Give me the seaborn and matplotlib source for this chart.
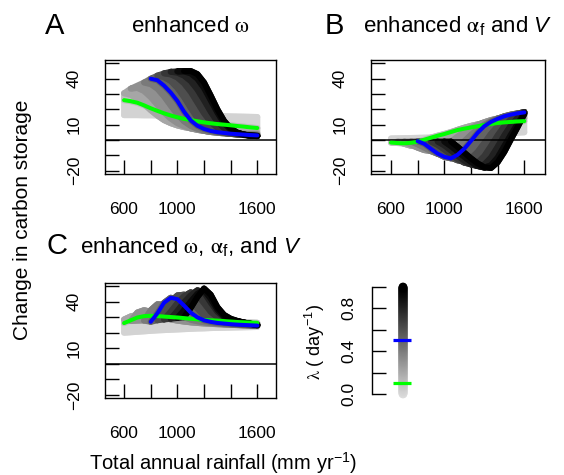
import numpy as np
import pandas as pd
import matplotlib
matplotlib.use("Agg")
import matplotlib.pyplot as plt
import seaborn as sns

nan = np.nan

# ---------------- data ----------------
rainfall = [600, 650, 700, 750, 800, 850, 900, 950, 1000, 1050, 1100,
            1150, 1200, 1250, 1300, 1350, 1400, 1450, 1500, 1550, 1600]
lambda_levels = [0.0, 0.1, 0.2, 0.3, 0.4, 0.5, 0.6, 0.7, 0.8, 0.9, 1.0]
green_idx = 1   # lambda = 0.1
blue_idx = 5    # lambda = 0.5

# Panel A: enhanced omega
a_l00 = [16.2, 16.2, 16.2, 16.1, 16.1, 16.0, 16.0, 15.9, 15.9, 15.8, 15.8,
         15.7, 15.7, 15.6, 15.5, 15.5, 15.4, 15.3, 15.2, 15.1, 15.0]
a_l01 = [26.0, 25.3, 24.3, 22.6, 20.7, 19.0, 17.4, 16.0, 14.8, 13.8, 13.0,
         12.2, 11.5, 10.9, 10.4, 10.0, 9.6, 9.1, 8.7, 8.2, 7.8]
a_l02 = [30.5, 29.5, 27.0, 23.5, 19.5, 16.0, 13.0, 11.0, 9.5, 8.4, 7.6,
         7.0, 6.5, 6.1, 5.8, 5.5, 5.3, 5.1, 4.9, 4.7, 4.5]
a_l03 = [nan, 33.5, 34.0, 32.0, 28.0, 23.0, 18.0, 14.0, 11.0, 9.0, 7.6,
         6.6, 5.9, 5.4, 5.0, 4.7, 4.4, 4.2, 4.0, 3.8, 3.7]
a_l04 = [nan, nan, nan, 37.5, 36.5, 33.5, 28.5, 22.5, 16.8, 12.2, 9.2,
         7.3, 6.0, 5.2, 4.7, 4.3, 4.0, 3.8, 3.6, 3.5, 3.4]
a_l05 = [nan, nan, nan, nan, 40.0, 39.0, 35.5, 31.0, 25.5, 18.5, 12.8,
         9.3, 7.2, 5.9, 5.1, 4.6, 4.1, 3.8, 3.5, 3.2, 3.0]
a_l06 = [nan, nan, nan, nan, nan, 42.0, 41.0, 38.5, 34.0, 28.0, 21.0,
         14.5, 10.0, 7.2, 5.6, 4.6, 4.0, 3.5, 3.2, 2.9, 2.8]
a_l07 = [nan, nan, nan, nan, nan, nan, 43.5, 42.8, 40.8, 37.0, 31.5,
         24.5, 17.5, 11.8, 8.0, 5.8, 4.5, 3.8, 3.3, 3.0, 2.7]
a_l08 = [nan, nan, nan, nan, nan, nan, nan, 44.5, 44.0, 42.0, 38.5,
         33.0, 26.0, 18.5, 12.0, 7.8, 5.4, 4.1, 3.4, 2.9, 2.6]
a_l09 = [nan, nan, nan, nan, nan, nan, nan, nan, 44.8, 44.8, 43.5,
         40.0, 34.0, 26.0, 18.0, 11.0, 6.8, 4.6, 3.5, 2.9, 2.6]
a_l10 = [nan, nan, nan, nan, nan, nan, nan, nan, nan, 45.0, 45.0,
         43.0, 37.5, 29.0, 20.0, 12.5, 7.5, 4.8, 3.5, 2.8, 2.5]

# Panel B: enhanced alpha_f and V
b_l00 = [1.0, 1.1, 1.2, 1.3, 1.4, 1.5, 1.6, 1.8, 2.0, 2.2, 2.4,
         2.6, 2.8, 3.0, 3.3, 3.6, 3.9, 4.2, 4.5, 4.8, 5.0]
b_l01 = [-1.7, -2.0, -2.2, -1.8, -1.2, 0.2, 1.5, 2.8, 3.9, 5.2, 6.5,
         7.4, 8.2, 9.0, 9.8, 10.5, 11.1, 11.5, 11.8, 12.1, 12.3]
b_l02 = [nan, -1.0, -2.5, -3.8, -4.3, -3.6, -1.8, 0.5, 2.8, 4.8, 6.6,
         8.0, 9.2, 10.2, 11.1, 11.9, 12.6, 13.2, 13.6, 14.0, 14.3]
b_l03 = [nan, nan, -1.0, -3.0, -5.0, -6.6, -7.2, -6.3, -4.0, -1.0, 2.2,
         5.2, 7.8, 9.9, 11.6, 13.0, 14.0, 14.8, 15.4, 15.9, 16.2]
b_l04 = [nan, nan, nan, -1.0, -2.8, -5.0, -7.3, -9.0, -9.5, -8.0, -4.8,
         -0.8, 3.3, 7.0, 10.0, 12.3, 14.0, 15.3, 16.2, 16.8, 17.2]
b_l05 = [nan, nan, nan, nan, -0.8, -2.5, -5.8, -8.9, -11.0, -12.0, -9.6,
         -5.7, -0.6, 4.7, 9.0, 11.8, 13.8, 15.5, 16.6, 17.4, 18.0]
b_l06 = [nan, nan, nan, nan, nan, -1.0, -3.0, -5.8, -8.8, -11.5, -13.3,
         -13.8, -12.0, -7.8, -2.0, 4.0, 9.0, 12.8, 15.5, 17.2, 18.3]
b_l07 = [nan, nan, nan, nan, nan, nan, -1.0, -3.2, -6.2, -9.5, -12.5,
         -14.8, -15.8, -14.8, -10.5, -4.0, 3.0, 9.0, 13.5, 16.5, 18.3]
b_l08 = [nan, nan, nan, nan, nan, nan, nan, -1.0, -3.5, -6.8, -10.3,
         -13.5, -16.0, -17.0, -16.0, -11.5, -4.5, 3.0, 9.5, 14.5, 18.2]
b_l09 = [nan, nan, nan, nan, nan, nan, nan, nan, -1.0, -4.0, -7.5,
         -11.0, -14.3, -17.0, -18.0, -16.5, -11.5, -4.0, 3.5, 10.5, 17.5]
b_l10 = [nan, nan, nan, nan, nan, nan, nan, nan, nan, -1.0, -4.5,
         -8.3, -12.0, -15.3, -17.8, -18.3, -14.5, -7.8, 0.5, 8.5, 17.0]

# Panel C: enhanced omega, alpha_f and V
c_l00 = [20.0, 20.3, 20.6, 20.9, 21.2, 21.5, 21.7, 21.9, 22.1, 22.3, 22.5,
         22.7, 22.8, 23.0, 23.1, 23.2, 23.3, 23.4, 23.5, 23.6, 23.7]
c_l01 = [26.2, 28.0, 29.8, 30.7, 30.9, 30.7, 30.4, 30.1, 29.8, 29.4, 29.0,
         28.6, 28.2, 28.0, 27.8, 27.5, 27.2, 26.9, 26.7, 26.5, 26.4]
c_l02 = [28.5, 30.5, 31.5, 31.3, 30.5, 29.8, 29.2, 28.7, 28.2, 27.8, 27.4,
         27.0, 26.7, 26.4, 26.1, 25.9, 25.7, 25.5, 25.3, 25.1, 25.0]
c_l03 = [nan, 27.5, 33.0, 34.5, 33.5, 31.5, 29.8, 28.6, 27.8, 27.2, 26.7,
         26.3, 26.0, 25.7, 25.5, 25.3, 25.1, 24.9, 24.8, 24.7, 24.6]
c_l04 = [nan, nan, nan, 27.8, 34.5, 38.3, 38.0, 35.5, 32.5, 30.0, 28.4,
         27.4, 26.7, 26.2, 25.8, 25.5, 25.2, 25.0, 24.8, 24.7, 24.6]
c_l05 = [nan, nan, nan, nan, 27.0, 32.5, 39.3, 42.5, 41.6, 37.5, 33.0,
         29.9, 28.0, 27.0, 26.3, 25.9, 25.5, 25.2, 25.0, 24.8, 24.6]
c_l06 = [nan, nan, nan, nan, nan, 28.0, 34.0, 40.0, 44.0, 44.5, 41.0,
         35.5, 31.0, 28.8, 27.5, 26.7, 26.1, 25.6, 25.2, 24.9, 24.7]
c_l07 = [nan, nan, nan, nan, nan, nan, 28.5, 33.5, 39.0, 43.5, 46.0,
         44.5, 39.0, 33.5, 30.0, 28.2, 27.1, 26.4, 25.8, 25.3, 24.9]
c_l08 = [nan, nan, nan, nan, nan, nan, nan, 29.0, 34.0, 39.5, 44.0,
         47.3, 46.0, 39.5, 33.5, 30.0, 28.3, 27.2, 26.3, 25.7, 25.1]
c_l09 = [nan, nan, nan, nan, nan, nan, nan, nan, 29.5, 34.5, 40.0,
         45.0, 47.5, 42.0, 35.0, 30.5, 28.5, 27.4, 26.5, 25.8, 25.1]
c_l10 = [nan, nan, nan, nan, nan, nan, nan, nan, nan, 30.0, 36.0,
         43.0, 48.5, 44.5, 36.5, 31.5, 29.0, 27.6, 26.6, 25.7, 24.8]

panel_a = [a_l00, a_l01, a_l02, a_l03, a_l04, a_l05, a_l06, a_l07, a_l08, a_l09, a_l10]
panel_b = [b_l00, b_l01, b_l02, b_l03, b_l04, b_l05, b_l06, b_l07, b_l08, b_l09, b_l10]
panel_c = [c_l00, c_l01, c_l02, c_l03, c_l04, c_l05, c_l06, c_l07, c_l08, c_l09, c_l10]

x_ticks = [600, 800, 1000, 1200, 1400, 1600]
x_labels = ["600", "", "1000", "", "", "1600"]
y_ticks = [-20, -10, 0, 10, 20, 30, 40, 50]
y_labels = ["\u221220", "", "", "10", "", "", "40", ""]
cb_ticks = [0.0, 0.2, 0.4, 0.6, 0.8, 1.0]
cb_labels = ["0.0", "", "0.4", "", "0.8", ""]

# ---------------- style ----------------
sns.set_style("white")
plt.rcParams["font.family"] = ["Liberation Sans", "DejaVu Sans"]
plt.rcParams["text.color"] = "black"
plt.rcParams["axes.labelcolor"] = "black"
plt.rcParams["xtick.color"] = "black"
plt.rcParams["ytick.color"] = "black"
plt.rcParams["axes.edgecolor"] = "black"
plt.rcParams["mathtext.fontset"] = "custom"
plt.rcParams["mathtext.rm"] = "STIXGeneral"
plt.rcParams["mathtext.it"] = "Liberation Sans:italic"
plt.rcParams["mathtext.sf"] = "Liberation Sans"
plt.rcParams["mathtext.bf"] = "Liberation Sans:bold"

TICK_FS = 12.5
BAND_LW = 4.3
LINE_LW = 2.9
BLUE = "#0000FF"
GREEN = "#00FF00"


def gray(lam):
    g = 0.87 * (1.0 - lam)
    return (g, g, g)


fig = plt.figure(figsize=(5.64, 4.75), dpi=100)


def draw_panel(rect, curves, xlim):
    ax = fig.add_axes(rect)
    n = len(lambda_levels)
    for i, lam in enumerate(lambda_levels):
        cur = pd.DataFrame({"rain": rainfall, "val": curves[i]}).dropna()
        sns.lineplot(data=cur, x="rain", y="val", ax=ax, color=gray(lam),
                     lw=BAND_LW, sort=False, estimator=None,
                     solid_capstyle="round", solid_joinstyle="round", zorder=2)
        if i < n - 1:
            nxt = pd.DataFrame({"rain": rainfall, "val": curves[i + 1]}).dropna()
            px = list(cur["rain"]) + list(nxt["rain"])[::-1]
            py = list(cur["val"]) + list(nxt["val"])[::-1]
            c = gray((lam + lambda_levels[i + 1]) / 2)
            ax.fill(px, py, fc=c, ec=c, lw=BAND_LW, joinstyle="round", zorder=2)
    ax.axhline(0, color="black", lw=1.1, zorder=4)
    for idx, col in ((green_idx, GREEN), (blue_idx, BLUE)):
        cur = pd.DataFrame({"rain": rainfall, "val": curves[idx]}).dropna()
        sns.lineplot(data=cur, x="rain", y="val", ax=ax, color=col, lw=LINE_LW,
                     sort=False, estimator=None, solid_capstyle="round",
                     solid_joinstyle="round", zorder=5)
    ax.set_xlim(*xlim)
    ax.set_ylim(-22.2, 52.2)
    ax.set_xlabel("")
    ax.set_ylabel("")
    ax.set_xticks(x_ticks)
    ax.set_xticklabels(x_labels, fontsize=TICK_FS, color="black")
    ax.set_yticks(y_ticks)
    ax.set_yticklabels(y_labels, fontsize=TICK_FS, rotation=90, va="center",
                       color="black")
    ax.tick_params(axis="x", direction="in", length=10, width=1.0, pad=20,
                   bottom=True, top=False, colors="black")
    ax.tick_params(axis="y", direction="in", length=10, width=1.0, pad=16.5,
                   left=True, right=False, colors="black")
    for s in ax.spines.values():
        s.set_visible(True)
        s.set_color("black")
        s.set_linewidth(1.0)
    ax.set_facecolor("white")
    return ax


ax_a = draw_panel([0.18617, 0.63368, 0.30319, 0.24], panel_a, (457, 1740))
ax_b = draw_panel([0.65727, 0.63368, 0.30904, 0.24], panel_b, (448, 1755))
ax_c = draw_panel([0.18617, 0.16147, 0.30319, 0.24337], panel_c, (457, 1740))

# ---------------- lambda colour key ----------------
cax = fig.add_axes([0.65904, 0.17053, 0.08865, 0.22526])
cax.set_facecolor("none")
key_vals = np.linspace(0.0, 1.0, 201)
cax.scatter(np.full(key_vals.shape, 0.626), key_vals,
            c=[gray(v) for v in key_vals], s=40, lw=0, clip_on=False, zorder=2)
cax.plot([0.426, 0.786], [lambda_levels[blue_idx]] * 2, color=BLUE, lw=2.3,
         solid_capstyle="butt", clip_on=False, zorder=3)
cax.plot([0.426, 0.786], [lambda_levels[green_idx]] * 2, color=GREEN, lw=2.3,
         solid_capstyle="butt", clip_on=False, zorder=3)
cax.set_xlim(0, 1)
cax.set_ylim(0, 1)
cax.set_xticks([])
cax.set_yticks(cb_ticks)
cax.set_yticklabels(cb_labels, fontsize=TICK_FS, rotation=90, va="center",
                    color="black")
cax.tick_params(axis="y", direction="in", length=10, width=1.0, pad=11,
                left=True, colors="black")
for name, s in cax.spines.items():
    s.set_visible(name == "left")
    s.set_color("black")
    s.set_linewidth(1.0)

# ---------------- texts ----------------
H = 475.0
W = 564.0
fig.text(45 / W, 1 - 33.5 / H, "A", fontsize=21, ha="left", va="baseline")
fig.text(190.5 / W, 1 - 32.5 / H, r"enhanced $\mathrm{\omega}$", fontsize=16,
         ha="center", va="baseline")
fig.text(325 / W, 1 - 33.5 / H, "B", fontsize=21, ha="left", va="baseline")
fig.text(458 / W, 1 - 32.5 / H,
         r"enhanced $\mathrm{\alpha}_{\mathsf{f}}$ and $\mathit{V}$",
         fontsize=16, ha="center", va="baseline")
fig.text(47 / W, 1 - 253.5 / H, "C", fontsize=21, ha="left", va="baseline")
fig.text(190.5 / W, 1 - 253 / H,
         r"enhanced $\mathrm{\omega}$, $\mathrm{\alpha}_{\mathsf{f}}$, and $\mathit{V}$",
         fontsize=16, ha="center", va="baseline")

fig.text(23 / W, 1 - 220 / H, "Change in carbon storage", fontsize=15,
         rotation=90, ha="center", va="center")
fig.text(223 / W, 1 - 463 / H, r"Total annual rainfall (mm yr$^{\mathsf{-1}}$)",
         fontsize=14.5, ha="center", va="center")
fig.text(315 / W, 1 - 342 / H, r"$\mathrm{\lambda}$ ( day$^{\mathsf{-1}}$)",
         fontsize=13, rotation=90, ha="center", va="center")

fig.savefig("out.png", dpi=100, facecolor="white")
